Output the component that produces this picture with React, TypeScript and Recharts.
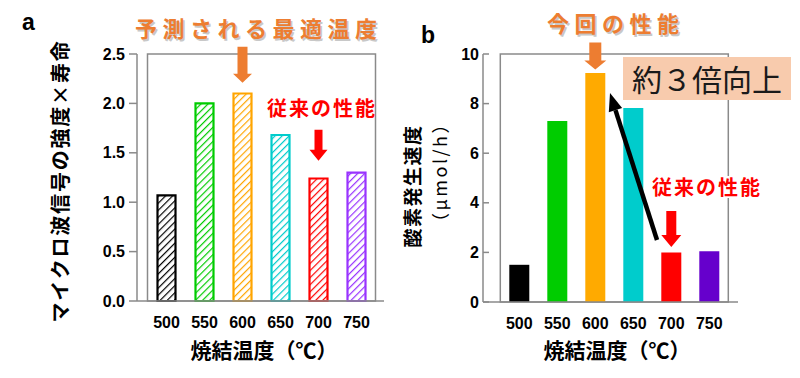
import React from 'react';
import {BarChart, Bar, XAxis, YAxis, Cell, ReferenceArea, ReferenceDot} from 'recharts';

const temps = ['500', '550', '600', '650', '700', '750'];
const microwave = [1.07, 2.0, 2.1, 1.68, 1.24, 1.3];
const oxygen = [1.5, 7.3, 9.23, 7.82, 2.0, 2.05];
const leftTicks = [0, 0.5, 1, 1.5, 2, 2.5];
const rightTicks = [0, 2, 4, 6, 8, 10];
const leftColors = ['#000000', '#00cc00', '#ffa500', '#00cccc', '#ff0000', '#9933ff'];
const rightColors = ['#000000', '#00cc00', '#ffaa00', '#00cccc', '#ff0000', '#6600cc'];

const leftData = temps.map((t, i) => ({temp: t, value: microwave[i]}));
const rightData = temps.map((t, i) => ({temp: t, value: oxygen[i]}));

const ARIAL = '"Liberation Sans", Arial, sans-serif';
const JP = '"Noto Sans CJK JP", "Noto Sans", sans-serif';
const AXIS = '#8a8a8a';
const ORANGE = '#ed7d31';

const tickStyle = {fill: '#000', fontSize: 16, fontWeight: 'bold', fontFamily: ARIAL};

// down arrow whose tip sits on (cx, cy)
const downArrow =
  (color: string, len: number, shaftW: number, headW: number, headH: number) => (props: any) => {
    const {cx, cy} = props;
    if (cx == null || cy == null) return <g />;
    const top = cy - len;
    const neck = cy - headH;
    const d = `M${cx - shaftW / 2},${top} L${cx + shaftW / 2},${top} L${cx + shaftW / 2},${neck} L${cx + headW / 2},${neck} L${cx},${cy} L${cx - headW / 2},${neck} L${cx - shaftW / 2},${neck} Z`;
    return <path d={d} fill={color} />;
  };

const Hatches = () => (
  <svg width={0} height={0} style={{position: 'absolute'}}>
    <defs>
      {leftColors.map((c, i) => (
        <pattern
          key={i}
          id={`hatch${i}`}
          patternUnits='userSpaceOnUse'
          width={5}
          height={5}
          patternTransform='rotate(45)'
        >
          <rect width={5} height={5} fill='#fff' />
          <line x1={0} y1={0} x2={0} y2={5} stroke={c} strokeWidth={2.4} />
        </pattern>
      ))}
    </defs>
  </svg>
);

const Overlay = () => {
  // black arrow from the old value toward the new one
  const tip = {x: 610, y: 93};
  const from = {x: 657, y: 240};
  const dx = tip.x - from.x;
  const dy = tip.y - from.y;
  const L = Math.hypot(dx, dy);
  const ux = dx / L;
  const uy = dy / L;
  const bx = tip.x - 18 * ux;
  const by = tip.y - 18 * uy;
  const nx = -uy;
  const ny = ux;
  return (
    <svg width={800} height={378} style={{position: 'absolute', left: 0, top: 0, pointerEvents: 'none'}}>
      <text x={22} y={30} fontFamily={ARIAL} fontWeight='bold' fontSize={23}>a</text>
      <text x={421} y={43} fontFamily={ARIAL} fontWeight='bold' fontSize={23}>b</text>

      <text x={136.5} y={38.5} fontFamily={JP} fontWeight='bold' fontSize={22} letterSpacing={5.5} fill='#c8c8c8'>予測される最適温度</text>
      <text x={135} y={37} fontFamily={JP} fontWeight='bold' fontSize={22} letterSpacing={5.5} fill={ORANGE}>予測される最適温度</text>
      <text x={548.5} y={33.5} fontFamily={JP} fontWeight='bold' fontSize={22} letterSpacing={5.5} fill='#c8c8c8'>今回の性能</text>
      <text x={547} y={32} fontFamily={JP} fontWeight='bold' fontSize={22} letterSpacing={5.5} fill={ORANGE}>今回の性能</text>

      <text x={267} y={116} fontFamily={JP} fontWeight='bold' fontSize={20} letterSpacing={2} fill='#ff0000'>従来の性能</text>

      <text transform='translate(68,181) rotate(-90)' textAnchor='middle' fontFamily={JP} fontWeight='bold' fontSize={20} letterSpacing={1.8}>マイクロ波信号の強度×寿命</text>
      <text transform='translate(420,186) rotate(-90)' textAnchor='middle' fontFamily={JP} fontWeight='bold' fontSize={19} letterSpacing={1.5}>酸素発生速度</text>
      <text transform='translate(447,172) rotate(-90)' textAnchor='middle' fontFamily={JP} fontSize={18} letterSpacing={2.5}>（μmol/h）</text>

      <text x={264} y={358} textAnchor='middle' fontFamily={JP} fontWeight='bold' fontSize={21}>焼結温度（℃）</text>
      <text x={617} y={358} textAnchor='middle' fontFamily={JP} fontWeight='bold' fontSize={21}>焼結温度（℃）</text>

      <line x1={from.x} y1={from.y} x2={bx} y2={by} stroke='#000' strokeWidth={4.5} />
      <polygon
        points={`${tip.x},${tip.y} ${bx + 7 * nx},${by + 7 * ny} ${bx - 7 * nx},${by - 7 * ny}`}
        fill='#000'
      />

      <rect x={623} y={57} width={168} height={43} fill='#f8cbad' />
      <text x={632} y={91} fontFamily={JP} fontSize={30} fill='#1a1a1a'>約３倍向上</text>

      <rect x={650} y={176} width={115} height={22} fill='#fff' />
      <text x={652} y={195} fontFamily={JP} fontWeight='bold' fontSize={20} letterSpacing={2} fill='#ff0000'>従来の性能</text>
    </svg>
  );
};

export default function App() {
  return (
    <div style={{position: 'absolute', left: 0, top: 0, width: 800, height: 378, background: '#fff'}}>
      <Hatches />
      <div style={{position: 'absolute', left: 0, top: 0}}>
        <BarChart
          width={400}
          height={378}
          data={leftData}
          margin={{top: 54, right: 16, left: 0, bottom: 0}}
          barCategoryGap={0}
        >
          <ReferenceArea y1={0} y2={2.5} fill='none' stroke={AXIS} strokeWidth={1.5} ifOverflow='visible' />
          <XAxis
            dataKey='temp'
            height={77}
            padding={{left: 10.5, right: 8.5}}
            tickLine={false}
            tickSize={6}
            tickMargin={10}
            axisLine={{stroke: AXIS, strokeWidth: 1.5}}
            tick={tickStyle}
            interval={0}
          />
          <YAxis
            type='number'
            domain={[0, 2.5]}
            ticks={leftTicks}
            interval={0}
            width={137}
            tickSize={8}
            tickMargin={4}
            tickFormatter={(v: number) => v.toFixed(1)}
            axisLine={{stroke: AXIS, strokeWidth: 1.5}}
            tickLine={{stroke: AXIS, strokeWidth: 1.5}}
            tick={tickStyle}
          />
          <Bar dataKey='value' barSize={18} strokeWidth={2.2} isAnimationActive={false}>
            {leftData.map((d, i) => (
              <Cell key={d.temp} fill={`url(#hatch${i})`} stroke={leftColors[i]} />
            ))}
          </Bar>
          <ReferenceDot x='600' y={2.21} ifOverflow='visible' shape={downArrow(ORANGE, 36, 10, 19, 9)} />
          <ReferenceDot x='700' y={1.42} ifOverflow='visible' shape={downArrow('#ff0000', 31, 8, 18, 11)} />
        </BarChart>
      </div>
      <div style={{position: 'absolute', left: 400, top: 0}}>
        <BarChart
          width={400}
          height={378}
          data={rightData}
          margin={{top: 54, right: 62, left: 0, bottom: 0}}
          barCategoryGap={0}
        >
          <ReferenceArea y1={0} y2={10} fill='none' stroke={AXIS} strokeWidth={1.5} ifOverflow='visible' />
          <XAxis
            dataKey='temp'
            height={76}
            padding={{left: 17.3, right: 9.7}}
            tickLine={false}
            tickSize={6}
            tickMargin={10}
            axisLine={{stroke: AXIS, strokeWidth: 1.5}}
            tick={tickStyle}
            interval={0}
          />
          <YAxis
            type='number'
            domain={[0, 10]}
            ticks={rightTicks}
            interval={0}
            width={83}
            tickSize={-6}
            tickMargin={10}
            axisLine={{stroke: AXIS, strokeWidth: 1.5}}
            tickLine={{stroke: AXIS, strokeWidth: 1.5}}
            tick={tickStyle}
          />
          <Bar dataKey='value' barSize={20} isAnimationActive={false}>
            {rightData.map((d, i) => (
              <Cell key={d.temp} fill={rightColors[i]} />
            ))}
          </Bar>
          <ReferenceDot x='600' y={9.37} ifOverflow='visible' shape={downArrow(ORANGE, 27, 12, 22, 9)} />
          <ReferenceDot x='700' y={2.22} ifOverflow='visible' shape={downArrow('#ff0000', 36, 10, 20, 12)} />
        </BarChart>
      </div>
      <Overlay />
    </div>
  );
}
